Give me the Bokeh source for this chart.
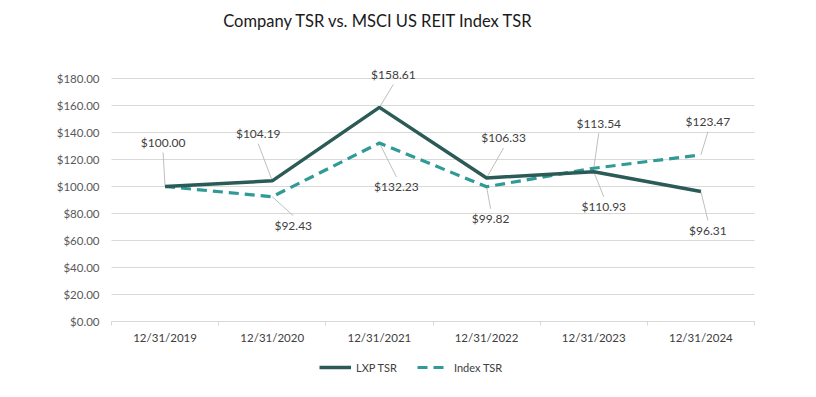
from bokeh.plotting import figure
from bokeh.models import (ColumnDataSource, FixedTicker, NumeralTickFormatter,
                          Legend, LegendItem, Range1d)
from bokeh.core.properties import value
from bokeh.embed import file_html
from bokeh.resources import INLINE

# ---- data ----
dates = ["12/31/2019", "12/31/2020", "12/31/2021", "12/31/2022", "12/31/2023", "12/31/2024"]
lxp_tsr = [100.00, 104.19, 158.61, 106.33, 110.93, 96.31]
index_tsr = [100.00, 92.43, 132.23, 99.82, 113.54, 123.47]
y_ticks = [0, 20, 40, 60, 80, 100, 120, 140, 160, 180]

# ---- label placement (pixel offsets from the point, screen: +y down) ----
lxp_dx = [-2, -14, 14, 17, 10, 7]
lxp_dy = [-44, -47, -33, -40, 35, 39]
idx_show = [False, True, True, True, True, True]
idx_dx = [0, 21, 17, 4, 5, 7]
idx_dy = [0, 29, 44, 32, -45, -33]

FONT = "Lato"
LXP_COLOR = "#2B5B57"
IDX_COLOR = "#2F9A96"

W, H = 800, 381
OFF = 1  # observed page offset of the canvas
# plot area in page pixels -> figure pixels
PL, PR, PT, PB = 112 - OFF, 755 - OFF, 79 - OFF, 322 - OFF
n = len(dates)
px_x = (PR - PL) / n
px_y = (PB - PT) / 180.0
x_lo = -0.5 - PL / px_x
x_hi = n - 0.5 + (W - PR) / px_x
y_hi = PB / px_y
y_lo = -(H - PB) / px_y
xs = list(range(n))

p = figure(width=W, height=H, output_backend="svg", toolbar_location=None,
           x_range=Range1d(x_lo, x_hi), y_range=Range1d(y_lo, y_hi),
           min_border=0, min_border_left=0, min_border_right=0,
           min_border_top=0, min_border_bottom=0)
p.outline_line_color = None
p.background_fill_color = "white"
p.border_fill_color = "white"
p.xgrid.grid_line_color = None
p.ygrid.grid_line_color = None

# horizontal gridlines over the plot area only
p.segment(x0=[-0.5] * len(y_ticks), x1=[n - 0.5] * len(y_ticks), y0=y_ticks, y1=y_ticks,
          line_color="#d9d9d9", line_width=1)

# axes fixed inside the frame
p.yaxis.fixed_location = -0.5
p.yaxis.ticker = FixedTicker(ticks=y_ticks)
p.yaxis.formatter = NumeralTickFormatter(format="$0.00")
p.yaxis.axis_line_color = None
p.yaxis.major_tick_line_color = None
p.yaxis.major_tick_out = 0
p.yaxis.major_tick_in = 0
p.yaxis.minor_tick_line_color = None
p.yaxis.major_label_standoff = 12
p.yaxis.major_label_text_font = FONT
p.yaxis.major_label_text_font_size = "11.5px"
p.yaxis.major_label_text_color = "#595959"

p.xaxis.fixed_location = 0
p.xaxis.bounds = (-0.5, n - 0.5)
p.xaxis.ticker = FixedTicker(ticks=xs, minor_ticks=[i - 0.5 for i in range(n + 1)])
p.xaxis.major_label_overrides = {i: d for i, d in enumerate(dates)}
p.xaxis.axis_line_color = "#d9d9d9"
p.xaxis.major_tick_line_color = None
p.xaxis.major_tick_out = 0
p.xaxis.major_tick_in = 0
p.xaxis.minor_tick_line_color = "#d9d9d9"
p.xaxis.minor_tick_out = 4
p.xaxis.minor_tick_in = 0
p.xaxis.major_label_standoff = 5
p.xaxis.major_label_text_font = FONT
p.xaxis.major_label_text_font_size = "11.5px"
p.xaxis.major_label_text_color = "#404040"

# leader lines + labels
def add_labels(vals, dx, dy, show):
    x0, y0, x1, y1 = [], [], [], []
    tx, ty, txt, ox, oy = [], [], [], [], []
    for i, v in enumerate(vals):
        if not show[i]:
            continue
        edge = dy[i] + (10 if dy[i] < 0 else -10)
        x0.append(i)
        y0.append(v)
        x1.append(i + dx[i] / px_x)
        y1.append(v - edge / px_y)
        tx.append(i)
        ty.append(v)
        txt.append("${:.2f}".format(v))
        ox.append(dx[i])
        oy.append(dy[i])
    p.segment(x0=x0, y0=y0, x1=x1, y1=y1, line_color="#bfbfbf", line_width=1)
    src = ColumnDataSource(dict(x=tx, y=ty, t=txt, ox=ox, oy=oy))
    p.text(x="x", y="y", text="t", x_offset="ox", y_offset="oy", source=src,
           text_font=value(FONT), text_font_size="12px", text_color="#404040",
           text_align="center", text_baseline="middle")

add_labels(lxp_tsr, lxp_dx, lxp_dy, [True] * n)
add_labels(index_tsr, idx_dx, idx_dy, idx_show)

r_idx = p.line(xs, index_tsr, line_color=IDX_COLOR, line_width=3.2, line_dash="10 6")
r_lxp = p.line(xs, lxp_tsr, line_color=LXP_COLOR, line_width=3.5)

# title (placed in data space above the plot area)
title_x = x_lo + ((379 - OFF) / px_x)
title_y = y_hi - ((21 - OFF) / px_y)
p.text(x=[title_x], y=[title_y], text=["Company TSR vs. MSCI US REIT Index TSR"],
       text_font=value(FONT), text_font_size="16.5px", text_color="#1a1a1a",
       text_align="center", text_baseline="middle")

legend = Legend(items=[LegendItem(label="LXP TSR", renderers=[r_lxp]),
                       LegendItem(label="Index TSR", renderers=[r_idx])],
                orientation="horizontal", location=(320 - OFF, H - (368 - OFF) - 8),
                padding=0, margin=0, spacing=20, glyph_width=32, glyph_height=16,
                label_height=16, label_standoff=5, border_line_color=None,
                background_fill_alpha=0,
                label_text_font=FONT, label_text_font_size="11px", label_text_color="#404040")
p.add_layout(legend, "center")

open("out.html", "w").write(file_html(p, INLINE))
